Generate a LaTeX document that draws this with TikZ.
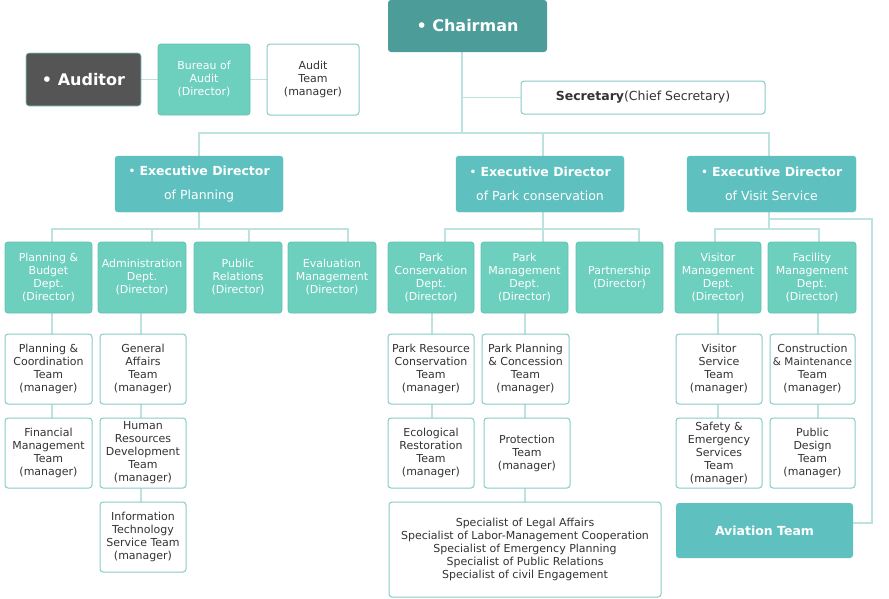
\documentclass[tikz,border=0pt]{standalone}
\usepackage{fontspec}
\setmainfont{DejaVu Sans}
\usetikzlibrary{backgrounds}
\definecolor{chairc}{HTML}{4C9C9A}
\definecolor{execc}{HTML}{5FC0C0}
\definecolor{deptc}{HTML}{6DCFBE}
\definecolor{deptb}{HTML}{62C2B2}
\definecolor{audc}{HTML}{555555}
\definecolor{teamb}{HTML}{86CBC6}
\definecolor{linec}{HTML}{BDE3E0}
\definecolor{txtc}{HTML}{333333}
\tikzset{
 box/.style={rectangle, rounded corners=3pt, inner sep=0pt, align=center, font=\fontsize{11}{13}\selectfont},
 deptbox/.style={box, fill=deptc, draw=deptb, line width=0.8pt, text=white},
 teambox/.style={box, fill=white, draw=teamb, line width=1pt, text=txtc},
 execbox/.style={box, fill=execc, draw=execc, text=white, font=\fontsize{12.5}{24}\selectfont},
 bigbox/.style={box, text=white, font=\fontsize{16}{18}\selectfont\bfseries},
 conn/.style={draw=linec, line width=1.2pt},
}
\begin{document}
\begin{tikzpicture}[x=1pt,y=-1pt]
\useasboundingbox (0,0) rectangle (889,598);
% top
\node[bigbox, fill=chairc, minimum width=159pt, minimum height=52pt] (ch) at (467.5,26) {\textbullet\ Chairman};
\node[bigbox, fill=audc, draw=teamb, line width=0.6pt, minimum width=115pt, minimum height=53pt] (aud) at (83.5,79.5) {\textbullet\ Auditor};
\node[deptbox, minimum width=92pt, minimum height=71pt] (bur) at (204,79.5) {Bureau of\\Audit\\(Director)};
\node[teambox, minimum width=92pt, minimum height=71pt] (at) at (313,79.5) {Audit\\Team\\(manager)};
\node[teambox, minimum width=244pt, minimum height=33pt, font=\fontsize{12.5}{14}\selectfont] (sec) at (643,97.5) {\textbf{Secretary}(Chief Secretary)};
% executives
\node[execbox, minimum width=168pt, minimum height=56pt] (exp) at (199,184) {\textbullet\ \textbf{Executive Director}\\of Planning};
\node[execbox, minimum width=168pt, minimum height=56pt] (exk) at (540,184) {\textbullet\ \textbf{Executive Director}\\of Park conservation};
\node[execbox, minimum width=169pt, minimum height=56pt] (exv) at (771.5,184) {\textbullet\ \textbf{Executive Director}\\of Visit Service};
% departments
\node[deptbox, minimum width=87pt, minimum height=71pt] (pb) at (48.5,277.5) {Planning \&\\Budget\\Dept.\\(Director)};
\node[deptbox, minimum width=88pt, minimum height=71pt] (ad) at (142,277.5) {Administration\\Dept.\\(Director)};
\node[deptbox, minimum width=88pt, minimum height=71pt] (pr) at (238,277.5) {Public\\Relations\\(Director)};
\node[deptbox, minimum width=88pt, minimum height=71pt] (ev) at (332,277.5) {Evaluation\\Management\\(Director)};
\node[deptbox, minimum width=86pt, minimum height=71pt] (pc) at (431,277.5) {Park\\Conservation\\Dept.\\(Director)};
\node[deptbox, minimum width=87pt, minimum height=71pt] (pm) at (524.5,277.5) {Park\\Management\\Dept.\\(Director)};
\node[deptbox, minimum width=87pt, minimum height=71pt] (pa) at (619.5,277.5) {Partnership\\(Director)};
\node[deptbox, minimum width=86pt, minimum height=71pt] (vm) at (718,277.5) {Visitor\\Management\\Dept.\\(Director)};
\node[deptbox, minimum width=88pt, minimum height=71pt] (fm) at (812,277.5) {Facility\\Management\\Dept.\\(Director)};
% teams
\node[teambox, minimum width=87pt, minimum height=70pt] (t1a) at (48.5,369) {Planning \&\\Coordination\\Team\\(manager)};
\node[teambox, minimum width=87pt, minimum height=70pt] (t1b) at (48.5,453) {Financial\\Management\\Team\\(manager)};
\node[teambox, minimum width=86pt, minimum height=70pt] (t2a) at (143,369) {General\\Affairs\\Team\\(manager)};
\node[teambox, minimum width=86pt, minimum height=70pt] (t2b) at (143,453) {Human\\Resources\\Development\\Team\\(manager)};
\node[teambox, minimum width=86pt, minimum height=70pt] (t2c) at (143,537) {Information\\Technology\\Service Team\\(manager)};
\node[teambox, minimum width=86pt, minimum height=70pt] (t3a) at (431,369) {Park Resource\\Conservation\\Team\\(manager)};
\node[teambox, minimum width=86pt, minimum height=70pt] (t3b) at (431,453) {Ecological\\Restoration\\Team\\(manager)};
\node[teambox, minimum width=87pt, minimum height=70pt] (t4a) at (525.5,369) {Park Planning\\\& Concession\\Team\\(manager)};
\node[teambox, minimum width=86pt, minimum height=70pt] (t4b) at (527,453) {Protection\\Team\\(manager)};
\node[teambox, minimum width=272pt, minimum height=95pt] (spec) at (525,549.5) {Specialist of Legal Affairs\\Specialist of Labor-Management Cooperation\\Specialist of Emergency Planning\\Specialist of Public Relations\\Specialist of civil Engagement};
\node[teambox, minimum width=86pt, minimum height=70pt] (t5a) at (719,369) {Visitor\\Service\\Team\\(manager)};
\node[teambox, minimum width=86pt, minimum height=70pt] (t5b) at (719,453) {Safety \&\\Emergency\\Services\\Team\\(manager)};
\node[teambox, minimum width=85pt, minimum height=70pt] (t6a) at (812.5,369) {Construction\\{\fontsize{10.5}{13}\selectfont\& Maintenance}\\Team\\(manager)};
\node[teambox, minimum width=85pt, minimum height=70pt] (t6b) at (812.5,453) {Public\\Design\\Team\\(manager)};
\node[box, fill=execc, text=white, minimum width=177pt, minimum height=55pt, font=\fontsize{12.5}{15}\selectfont\bfseries] (av) at (764.5,530.5) {Aviation Team};
% connector coordinates
\coordinate (bus) at (462,133);
\coordinate (sb) at (0,229);
\coordinate (ry) at (0,219);
\coordinate (ay) at (0,523);
\coordinate (c1) at (52,0);
\coordinate (c2) at (152,0);
\coordinate (c2b) at (141,0);
\coordinate (c3) at (249,0);
\coordinate (c4) at (348,0);
\coordinate (c5) at (445,0);
\coordinate (c5b) at (432,0);
\coordinate (c6) at (543,0);
\coordinate (c6b) at (525,0);
\coordinate (c7) at (639,0);
\coordinate (c8) at (715,0);
\coordinate (c8b) at (718,0);
\coordinate (c9) at (819,0);
\coordinate (c9b) at (818,0);
\coordinate (vx) at (769,0);
\coordinate (rx) at (872,0);
\begin{pgfonlayer}{background}
\draw[conn] (aud.east) -- (bur.west);
\draw[conn] (bur.east) -- (at.west);
\draw[conn] (ch.south -| bus) -- (bus);
\draw[conn] (ch.south -| bus) |- (sec.west);
\draw[conn] (exp.north) -- (exp.north |- bus) -- (vx |- bus) -- (vx |- exv.north);
\draw[conn] (c6 |- bus) -- (c6 |- exk.north);
% planning
\draw[conn] (exp.south) -- (exp.south |- sb);
\draw[conn] (c1 |- pb.north) -- (c1 |- sb) -- (c4 |- sb) -- (c4 |- ev.north);
\draw[conn] (c2 |- sb) -- (c2 |- ad.north);
\draw[conn] (c3 |- sb) -- (c3 |- pr.north);
% park
\draw[conn] (c6 |- exk.south) -- (c6 |- pm.north);
\draw[conn] (c5 |- pc.north) -- (c5 |- sb) -- (c7 |- sb) -- (c7 |- pa.north);
% visit
\draw[conn] (vx |- exv.south) -- (vx |- sb);
\draw[conn] (vx |- ry) -- (rx |- ry) -- (rx |- ay) -- (av.east |- ay);
\draw[conn] (c8 |- vm.north) -- (c8 |- sb) -- (c9 |- sb) -- (c9 |- fm.north);
% teams
\draw[conn] (c1 |- pb.south) -- (c1 |- t1b.north);
\draw[conn] (c2b |- ad.south) -- (c2b |- t2c.north);
\draw[conn] (c5b |- pc.south) -- (c5b |- t3b.north);
\draw[conn] (c6b |- pm.south) -- (c6b |- spec.north);
\draw[conn] (c8b |- vm.south) -- (c8b |- t5b.north);
\draw[conn] (c9b |- fm.south) -- (c9b |- t6b.north);
\end{pgfonlayer}
\end{tikzpicture}
\end{document}
